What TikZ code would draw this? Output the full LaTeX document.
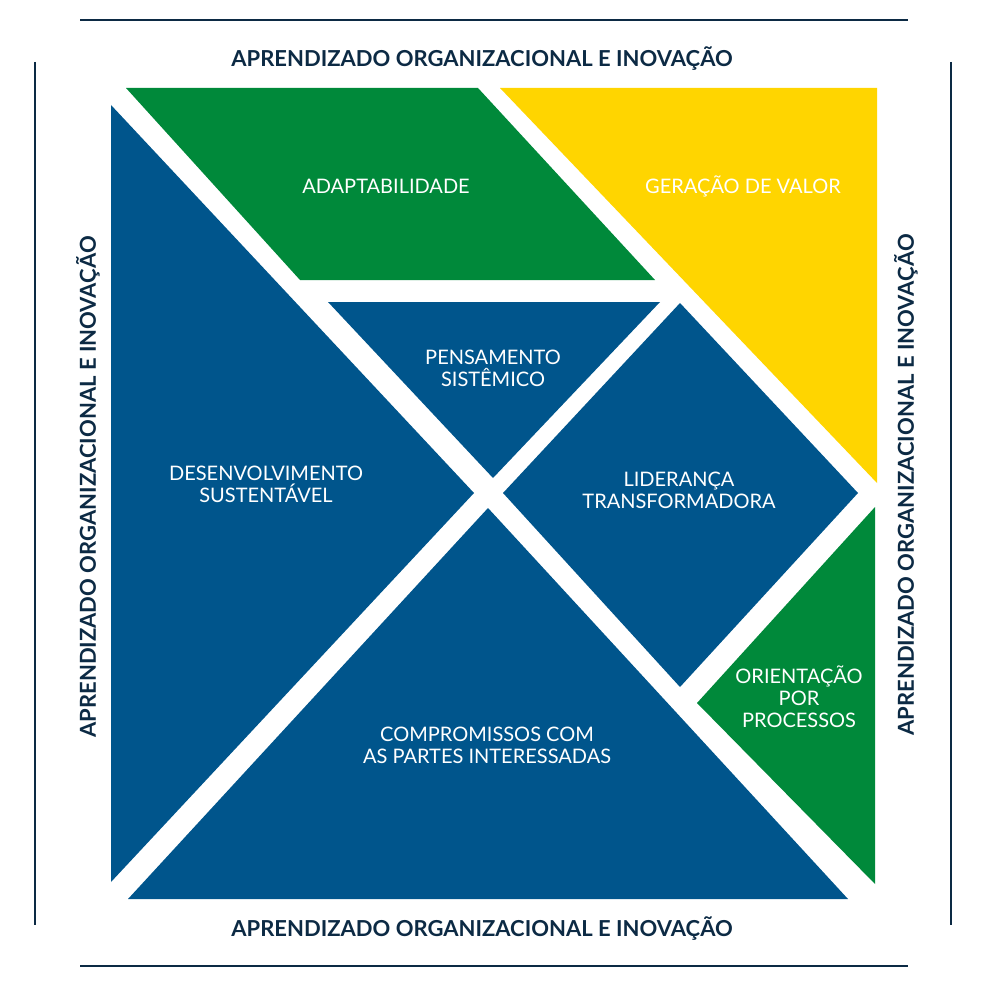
\documentclass[tikz,border=0pt]{standalone}
\usepackage{fontspec}
\setmainfont{Lato}
\definecolor{cblue}{RGB}{0,85,140}
\definecolor{cgreen}{RGB}{0,137,58}
\definecolor{cyellow}{RGB}{255,213,0}
\definecolor{cnavy}{RGB}{12,42,68}
\begin{document}
\begin{tikzpicture}[x=1pt,y=-1pt,
  lbl/.style={text=white,font=\fontsize{20}{22}\selectfont,align=center},
  ttl/.style={text=cnavy,font=\bfseries\fontsize{22}{24}\selectfont},
  rule/.style={draw=cnavy,line width=2.5pt}]
\useasboundingbox (0,0) rectangle (1000,1000);
\draw[rule] (80,20) -- (908,20);
\draw[rule] (80,966) -- (908,966);
\draw[rule] (35,62) -- (35,925);
\draw[rule] (951,62) -- (951,925);
\fill[cblue] (111,105) -- (111,882) -- (474,493) -- cycle;
\fill[cblue] (128,899) -- (848,899) -- (488,508) -- cycle;
\fill[cgreen] (126,88) -- (478,88) -- (655,280) -- (300,280) -- cycle;
\fill[cyellow] (500,88) -- (877,88) -- (877,483) -- cycle;
\fill[cblue] (328,302) -- (660,302) -- (493,478) -- cycle;
\fill[cblue] (503,493) -- (680,303) -- (858,493) -- (680,687) -- cycle;
\fill[cgreen] (697,703) -- (875,507) -- (875,884) -- cycle;
\node[lbl] (ad) at (386,186) {ADAPTABILIDADE};
\node[lbl] (gv) at (743,186) {GERAÇÃO DE VALOR};
\node[lbl] (ps) at (493,368) {PENSAMENTO\\SISTÊMICO};
\node[lbl] (ds) at (266,484) {DESENVOLVIMENTO\\SUSTENTÁVEL};
\node[lbl] (lt) at (679,490) {LIDERANÇA\\TRANSFORMADORA};
\node[lbl] (cp) at (487,745) {COMPROMISSOS COM\\AS PARTES INTERESSADAS};
\node[lbl] (op) at (799,697) {ORIENTAÇÃO\\POR\\PROCESSOS};
\node[ttl] (t1) at (482,59) {APRENDIZADO ORGANIZACIONAL E INOVAÇÃO};
\node[ttl] (t2) at (482,929) {APRENDIZADO ORGANIZACIONAL E INOVAÇÃO};
\node[ttl,rotate=90] (t3) at (88,487) {APRENDIZADO ORGANIZACIONAL E INOVAÇÃO};
\node[ttl,rotate=90] (t4) at (906,485) {APRENDIZADO ORGANIZACIONAL E INOVAÇÃO};
\end{tikzpicture}
\end{document}
